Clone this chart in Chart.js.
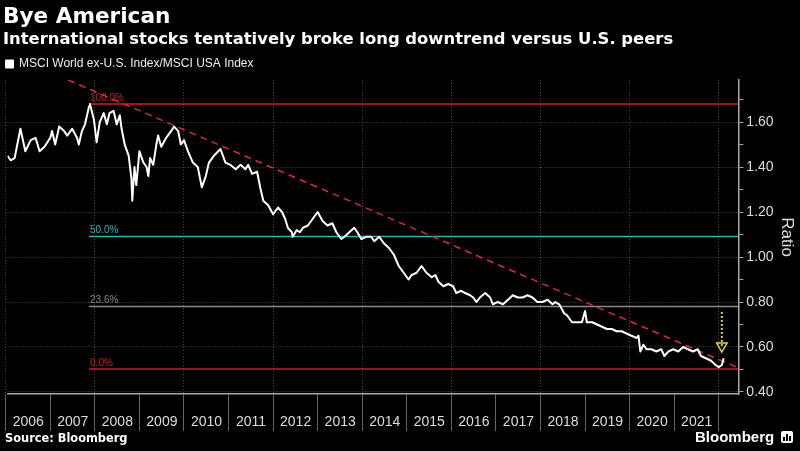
<!DOCTYPE html>
<html>
  <head>
    <meta charset="UTF-8" />
    <title>Bye American</title>
    <style>
      * {
        margin: 0;
        padding: 0;
        box-sizing: border-box;
      }

      body {
        position: relative;
        width: 800px;
        height: 451px;
        overflow: hidden;
        background-color: #000;
        color: #fff;
        font-family: "Liberation Sans", sans-serif;
      }

      #chart {
        position: absolute;
        left: 0;
        top: 0;
      }

      .title {
        position: absolute;
        left: 3px;
        top: 4px;
        font: bold 21.6px/24px "DejaVu Sans", sans-serif;
      }

      .subtitle {
        position: absolute;
        left: 3px;
        top: 29px;
        font: bold 16.4px/19px "DejaVu Sans", sans-serif;
      }

      .source {
        position: absolute;
        left: 5px;
        top: 432px;
        font: bold 11.4px/13px "DejaVu Sans", sans-serif;
      }

      .logo {
        position: absolute;
        left: 695px;
        top: 428px;
        font: bold 15px/18px "Liberation Sans", sans-serif;
      }

      .icon {
        position: absolute;
        left: 781px;
        top: 431px;
        width: 12px;
        height: 12px;
        background: #fff;
        border-radius: 2px;
      }

      .icon i {
        position: absolute;
        bottom: 2px;
        width: 2px;
        background: #000;
      }
    </style>
  </head>
  <body>
    <canvas id="chart" width="800" height="451"></canvas>
    <div class="title">Bye American</div>
    <div class="subtitle">International stocks tentatively broke long downtrend versus U.S. peers</div>
    <div class="source">Source: Bloomberg</div>
    <div class="logo">Bloomberg</div>
    <div class="icon"><i style="left:2px;height:4px"></i><i style="left:5px;height:7px"></i><i style="left:8px;height:5px"></i></div>

    <script src="https://cdn.jsdelivr.net/npm/chart.js"></script>
    <script>
      // MSCI World ex-U.S. / MSCI USA (decimal years)
      const years = [
        2006.04, 2006.11, 2006.2, 2006.33, 2006.44, 2006.56, 2006.67, 2006.76, 2006.87,
        2007.0, 2007.04, 2007.11, 2007.2, 2007.31, 2007.38, 2007.49, 2007.6, 2007.64, 2007.71,
        2007.78, 2007.87, 2007.89, 2007.98, 2008.04, 2008.11, 2008.2, 2008.27, 2008.33, 2008.42,
        2008.49, 2008.56, 2008.6, 2008.67, 2008.76, 2008.82, 2008.84, 2008.89, 2008.93, 2009.0,
        2009.09, 2009.16, 2009.2, 2009.24, 2009.31, 2009.38, 2009.42, 2009.49, 2009.6, 2009.71,
        2009.78, 2009.87, 2009.93, 2010.0, 2010.09, 2010.2, 2010.31, 2010.4, 2010.49, 2010.56,
        2010.67, 2010.82, 2010.93, 2011.04, 2011.16, 2011.27, 2011.38, 2011.44, 2011.53, 2011.64,
        2011.71, 2011.78, 2011.89, 2012.0, 2012.11, 2012.2, 2012.27, 2012.33, 2012.42, 2012.44,
        2012.53, 2012.6, 2012.67, 2012.78, 2012.89, 2013.0, 2013.11, 2013.22, 2013.33, 2013.42,
        2013.53, 2013.6, 2013.71, 2013.82, 2013.89, 2013.98, 2014.09, 2014.2, 2014.27, 2014.38,
        2014.49, 2014.6, 2014.71, 2014.82, 2014.93, 2015.04, 2015.11, 2015.22, 2015.33, 2015.44,
        2015.56, 2015.64, 2015.71, 2015.82, 2015.93, 2016.04, 2016.11, 2016.22, 2016.31, 2016.42,
        2016.49, 2016.56, 2016.64, 2016.76, 2016.87, 2016.93, 2017.04, 2017.16, 2017.27, 2017.38,
        2017.49, 2017.6, 2017.71, 2017.82, 2017.93, 2018.04, 2018.16, 2018.27, 2018.33, 2018.42,
        2018.53, 2018.6, 2018.67, 2018.71, 2018.82, 2018.93, 2019.0, 2019.04, 2019.16, 2019.27,
        2019.38, 2019.49, 2019.6, 2019.71, 2019.82, 2019.93, 2020.04, 2020.16, 2020.2, 2020.24,
        2020.31, 2020.38, 2020.49, 2020.6, 2020.71, 2020.78, 2020.87, 2020.98, 2021.09, 2021.2,
        2021.31, 2021.42, 2021.53, 2021.6, 2021.71, 2021.82, 2021.93, 2022.0, 2022.07, 2022.11,
      ];
      const ratio = [
        1.45, 1.43, 1.44, 1.57, 1.47, 1.52, 1.53, 1.47, 1.49,
        1.53, 1.56, 1.5, 1.58, 1.56, 1.54, 1.57, 1.53, 1.5, 1.56,
        1.59, 1.67, 1.68, 1.61, 1.51, 1.6, 1.64, 1.59, 1.64, 1.65,
        1.59, 1.63, 1.57, 1.5, 1.45, 1.35, 1.25, 1.4, 1.32, 1.47,
        1.42, 1.4, 1.36, 1.44, 1.41, 1.5, 1.54, 1.49, 1.53, 1.56,
        1.58, 1.56, 1.5, 1.52, 1.47, 1.42, 1.4, 1.31, 1.36, 1.42,
        1.45, 1.48, 1.42, 1.41, 1.39, 1.41, 1.39, 1.41, 1.37, 1.38,
        1.31, 1.25, 1.23, 1.19, 1.22, 1.2, 1.17, 1.13, 1.11, 1.09,
        1.12, 1.11, 1.13, 1.14, 1.17, 1.2, 1.16, 1.14, 1.15, 1.11,
        1.08, 1.09, 1.11, 1.13, 1.11, 1.08, 1.09, 1.09, 1.07, 1.09,
        1.06, 1.04, 1.01, 0.96, 0.93, 0.9, 0.92, 0.93, 0.96, 0.93,
        0.91, 0.92, 0.89, 0.87, 0.88, 0.87, 0.84, 0.85, 0.84, 0.83,
        0.82, 0.8, 0.82, 0.84, 0.82, 0.79, 0.8, 0.79, 0.81, 0.83,
        0.82, 0.82, 0.83, 0.82, 0.8, 0.8, 0.81, 0.79, 0.8, 0.79,
        0.75, 0.74, 0.72, 0.71, 0.71, 0.71, 0.76, 0.71, 0.71, 0.7,
        0.69, 0.68, 0.68, 0.67, 0.67, 0.66, 0.65, 0.64, 0.65, 0.58,
        0.61, 0.59, 0.59, 0.58, 0.59, 0.56, 0.58, 0.59, 0.58, 0.6,
        0.59, 0.58, 0.59, 0.56, 0.55, 0.54, 0.52, 0.51, 0.52, 0.55,
      ];

      // dashed downtrend line
      const trendYears = [2007.4, 2022.44];
      const trendValues = [1.787, 0.507];

      // retracement levels
      const fibNames = ["100.0%", "50.0%", "23.6%", "0.0%"];
      const fibLevels = [1.68, 1.091, 0.78, 0.502];
      const fibYears = [2007.87, 2022.44];

      // yellow arrow at the breakout
      const arrowYears = [2022.07, 2022.07];
      const arrowValues = [0.756, 0.604];

      const xTickYears = [
        2006, 2007, 2008, 2009, 2010, 2011, 2012, 2013, 2014, 2015, 2016, 2017, 2018, 2019,
        2020, 2021, 2022,
      ];
      const yTickValues = [0.4, 0.5, 0.6, 0.7, 0.8, 0.9, 1.0, 1.1, 1.2, 1.3, 1.4, 1.5, 1.6, 1.7];

      const fibColors = ["#c0202e", "#2fb3b3", "#8a8a8a", "#c0202e"];
      const gridColor = "#4a4a4a";
      const clear = "rgba(0,0,0,0)";

      const pairs = (xs, ys) => xs.map((x, i) => ({ x: x, y: ys[i] }));
      const isEvenTenth = (v) => Math.round(v * 10) % 2 === 0;

      const fibDatasets = fibLevels.map((lvl, i) => ({
        label: fibNames[i],
        data: pairs(fibYears, [lvl, lvl]),
        borderColor: fibColors[i],
        borderWidth: 1.5,
        pointRadius: 0,
      }));

      // level names sit just above the start of each line
      const fibLabels = {
        id: "fibLabels",
        afterDatasetsDraw(chart) {
          const { ctx, scales } = chart;
          ctx.save();
          ctx.font = '10px "Liberation Sans"';
          ctx.textBaseline = "bottom";
          fibNames.forEach((name, i) => {
            ctx.fillStyle = fibColors[i];
            ctx.fillText(
              name,
              scales.x.getPixelForValue(fibYears[0]) + 1,
              scales.y.getPixelForValue(fibLevels[i]) - 1
            );
          });
          ctx.restore();
        },
      };

      Chart.defaults.font.family = '"Liberation Sans", sans-serif';
      Chart.defaults.color = "#ddd";

      new Chart(document.getElementById("chart").getContext("2d"), {
        type: "line",
        data: {
          datasets: [
            {
              label: "MSCI World ex-U.S. Index/MSCI USA Index",
              data: pairs(years, ratio),
              borderColor: "#fff",
              backgroundColor: "#fff",
              borderWidth: 2,
              borderJoinStyle: "round",
              pointRadius: 0,
            },
            {
              label: "trend",
              data: pairs(trendYears, trendValues),
              borderColor: "#d42a4a",
              borderWidth: 1.5,
              borderDash: [7, 5],
              pointRadius: 0,
            },
            {
              label: "arrow",
              data: pairs(arrowYears, arrowValues),
              borderColor: "#e6d52c",
              borderWidth: 2,
              borderDash: [2, 2],
              pointRadius: [0, 6],
              pointStyle: "triangle",
              rotation: 180,
              pointBorderColor: "#e6d52c",
              pointBackgroundColor: clear,
              pointBorderWidth: 1.5,
            },
            ...fibDatasets,
          ],
        },
        options: {
          responsive: false,
          animation: false,
          events: [],
          layout: { padding: { top: 52, left: 0, right: 0, bottom: 20 } },
          plugins: {
            tooltip: { enabled: false },
            legend: {
              position: "top",
              align: "start",
              labels: {
                boxWidth: 7,
                boxHeight: 7,
                padding: 6,
                color: "#eee",
                font: { size: 12 },
                filter: (item) => item.datasetIndex === 0,
              },
            },
          },
          scales: {
            x: {
              type: "linear",
              min: 2006.04,
              max: 2022.44,
              afterBuildTicks: (axis) => {
                axis.ticks = xTickYears.map((v) => ({ value: v }));
              },
              // year labels sit inside the long separator ticks
              afterFit: (axis) => {
                axis.height = 37;
              },
              grid: {
                color: (c) => (c.tick && c.tick.value % 2 === 0 ? gridColor : clear),
                tickColor: "#666",
                tickLength: 37,
                tickBorderDash: [],
              },
              border: { color: "#aaa", width: 1.5, dash: [1, 2] },
              ticks: {
                autoSkip: false,
                maxRotation: 0,
                minRotation: 0,
                labelOffset: 22.5,
                padding: -17,
                color: "#ddd",
                font: { size: 14 },
                callback: (v) => (v <= 2021 ? String(v) : ""),
              },
            },
            y: {
              position: "right",
              min: 0.391,
              max: 1.787,
              afterBuildTicks: (axis) => {
                axis.ticks = yTickValues.map((v) => ({ value: v }));
              },
              grid: {
                color: (c) => (c.tick && isEvenTenth(c.tick.value) ? gridColor : clear),
                tickColor: "#aaa",
                tickLength: 5,
                tickBorderDash: [],
              },
              border: { color: "#aaa", width: 1.5, dash: [1, 2] },
              ticks: {
                autoSkip: false,
                padding: 3,
                color: "#ddd",
                font: { size: 14 },
                callback: (v) => (isEvenTenth(v) ? v.toFixed(2) : ""),
              },
              title: {
                display: true,
                text: "Ratio",
                color: "#ddd",
                font: { size: 17 },
                padding: { top: 3, bottom: 0 },
              },
            },
          },
        },
        plugins: [fibLabels],
      });
    </script>
  </body>
</html>
